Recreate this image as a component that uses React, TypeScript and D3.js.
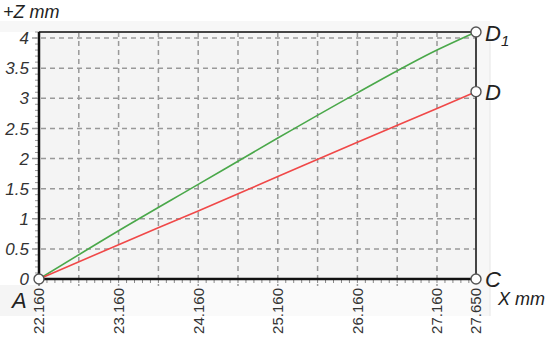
import React from "react";
import * as d3 from "d3";

// measured points along X (mm)
const xValues = [22.16, 23.16, 24.16, 25.16, 26.16, 27.16, 27.65];
const zD1 = [0, 0.8, 1.57, 2.34, 3.09, 3.8, 4.1];
const zD = [0, 0.57, 1.13, 1.7, 2.27, 2.83, 3.11];

const xTicks = [22.16, 23.16, 24.16, 25.16, 26.16, 27.16, 27.65];
const yTicks = [0, 0.5, 1, 1.5, 2, 2.5, 3, 3.5, 4];
const xGrid = [22.66, 23.16, 23.66, 24.16, 24.66, 25.16, 25.66, 26.16, 26.66, 27.16];

const W = 550;
const H = 338;
const left = 39, right = 476, top = 32, bottom = 279;

const App = () => {
  const x = d3.scaleLinear().domain([22.16, 27.65]).range([left, right]);
  const y = d3.scaleLinear().domain([0, 4.1]).range([bottom, top]);

  const line = d3
    .line<number>()
    .x((_, i) => x(xValues[i]))
    .y((d) => y(d))
    .curve(d3.curveMonotoneX);

  const xMinor = d3.range(22.16, 27.651, 0.1);
  const yMinor = d3.range(0, 4.101, 0.1);
  const fmtX = d3.format(".3f");
  const fmtY = d3.format("~g");

  const labelFont = "'Liberation Sans', Arial, sans-serif";

  return (
    <svg
      width={W}
      height={H}
      style={{ position: "fixed", left: 0, top: 0, background: "#fff" }}
      fontFamily={labelFont}
    >
      {/* panel backgrounds */}
      <rect x={0} y={21} width={490} height={11} fill="#f7f7f7" />
      <rect x={36} y={279} width={454} height={37} fill="#fafafa" />
      <rect x={0} y={285} width={36} height={31} fill="#f5f5f5" />
      <rect x={right} y={21} width={14} height={295} fill="#f7f7f7" />
      <line x1={490} x2={490} y1={28} y2={316} stroke="#e6e6e6" />
      <rect x={left} y={top} width={right - left} height={bottom - top} fill="#f4f4f4" />

      {/* grid */}
      {xGrid.map((v) => (
        <line
          key={"gx" + v}
          x1={x(v)}
          x2={x(v)}
          y1={top}
          y2={bottom + 7}
          stroke="#999"
          strokeWidth={1.5}
          strokeDasharray="5,4"
        />
      ))}
      {yTicks.slice(1).map((v) => (
        <line
          key={"gy" + v}
          x1={left - 7}
          x2={right}
          y1={y(v)}
          y2={y(v)}
          stroke="#999"
          strokeWidth={1.5}
          strokeDasharray="5,4"
        />
      ))}

      {/* minor ticks */}
      {xMinor.map((v, i) => (
        <line key={"mx" + i} x1={x(v)} x2={x(v)} y1={bottom} y2={bottom + 4} stroke="#888" strokeWidth={1} />
      ))}
      {yMinor.map((v, i) => (
        <line key={"my" + i} x1={left - 4} x2={left} y1={y(v)} y2={y(v)} stroke="#999" strokeWidth={1} />
      ))}
      <line x1={x(22.16)} x2={x(22.16)} y1={bottom} y2={bottom + 7} stroke="#666" strokeWidth={1.4} />

      {/* frame */}
      <line x1={left} x2={right} y1={top} y2={top} stroke="#444" strokeWidth={2} />
      <line x1={right} x2={right} y1={top} y2={bottom} stroke="#444" strokeWidth={2} />
      <line x1={left} x2={left} y1={top} y2={bottom} stroke="#111" strokeWidth={2.5} />
      <line x1={left} x2={right} y1={bottom} y2={bottom} stroke="#111" strokeWidth={2.5} />

      {/* series */}
      <path d={line(zD1) ?? ""} fill="none" stroke="#4aa84a" strokeWidth={1.6} />
      <path d={line(zD) ?? ""} fill="none" stroke="#f04848" strokeWidth={1.6} />

      {/* point markers */}
      {[
        [22.16, 0],
        [27.65, 0],
        [27.65, zD[zD.length - 1]],
        [27.65, zD1[zD1.length - 1]],
      ].map(([px, pz], i) => (
        <circle key={"c" + i} cx={x(px)} cy={y(pz)} r={5} fill="#fff" stroke="#555" strokeWidth={1.4} />
      ))}

      {/* y tick labels */}
      {yTicks.map((v) => (
        <text
          key={"ty" + v}
          x={left - 10}
          y={y(v)}
          dy="0.36em"
          textAnchor="end"
          fontSize={17}
          fontStyle="italic"
          fill="#333"
        >
          {fmtY(v)}
        </text>
      ))}

      {/* x tick labels */}
      {xTicks.map((v) => (
        <text
          key={"tx" + v}
          transform={`translate(${x(v)},${bottom + 9}) rotate(-90)`}
          dy="0.36em"
          textAnchor="end"
          fontSize={15}
          fill="#333"
        >
          {fmtX(v)}
        </text>
      ))}

      {/* axis titles and point names */}
      <text x={3} y={18} fontSize={18} fontStyle="italic" fill="#222">+Z mm</text>
      <text x={498} y={305} fontSize={18} fontStyle="italic" fill="#222">X mm</text>
      <text x={12} y={308} fontSize={22} fontStyle="italic" fill="#222">A</text>
      <text x={485} y={287} fontSize={22} fontStyle="italic" fill="#222">C</text>
      <text x={485} y={100} fontSize={22} fontStyle="italic" fill="#222">D</text>
      <text x={485} y={41} fontSize={22} fontStyle="italic" fill="#222">
        D<tspan fontSize={15} dy={5}>1</tspan>
      </text>
    </svg>
  );
};

export default App;
